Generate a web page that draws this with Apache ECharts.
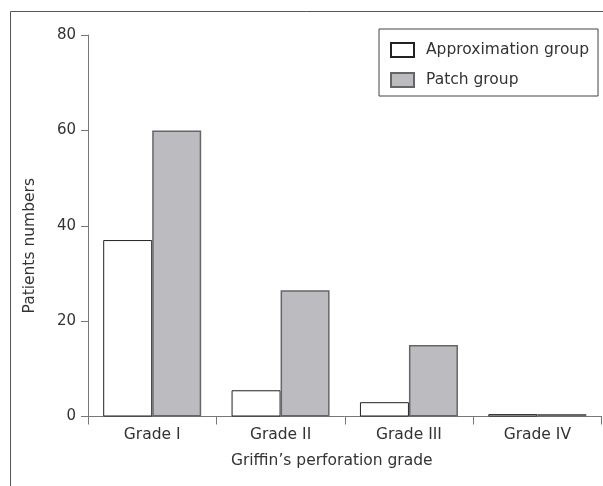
<!DOCTYPE html>
<html>
<head>
<meta charset="utf-8">
<script src="https://cdn.jsdelivr.net/npm/echarts@6/dist/echarts.min.js"></script>
<style>
html,body{margin:0;padding:0;background:#fff;}
#chart{width:603px;height:486px;}
</style>
</head>
<body>
<div id="chart"></div>
<script>
const categories = ['Grade I', 'Grade II', 'Grade III', 'Grade IV'];
const approximationGroup = [37, 5.5, 3, 0.5];
const patchGroup = [60, 26.5, 15, 0.5];
const yTicks = [0, 20, 40, 60, 80];
const seriesNames = ['Approximation group', 'Patch group'];
const xTitle = 'Griffin\u2019s perforation grade';
const yTitle = 'Patients numbers';

const FONT = 'DejaVu Sans';
const TXT = '#333';
const AX = '#777';

const chart = echarts.init(document.getElementById('chart'), null, {renderer: 'canvas'});
chart.setOption({
  animation: false,
  backgroundColor: '#fff',
  textStyle: {fontFamily: FONT},
  grid: {left: 88, right: 1.5, top: 35, bottom: 69.5, containLabel: false},
  legend: {
    orient: 'vertical',
    left: 379, top: 29,
    padding: [13, 9, 8, 11],
    itemWidth: 23, itemHeight: 14, itemGap: 14,
    borderColor: '#444', borderWidth: 1,
    icon: 'rect',
    textStyle: {fontFamily: FONT, fontSize: 15.5, color: TXT, padding: [0, 0, 0, 7]},
    data: seriesNames
  },
  xAxis: {
    type: 'category',
    data: categories,
    boundaryGap: true,
    name: xTitle,
    nameLocation: 'middle',
    nameGap: 36,
    nameTextStyle: {fontFamily: FONT, fontSize: 15.5, color: TXT, padding: [0, 26, 0, 0]},
    axisLine: {show: true, lineStyle: {color: AX, width: 1}},
    axisTick: {show: true, inside: false, alignWithLabel: false, length: 8, lineStyle: {color: AX}},
    axisLabel: {fontFamily: FONT, fontSize: 15.5, color: TXT, margin: 10},
    splitLine: {show: false}
  },
  yAxis: {
    type: 'value',
    min: 0, max: 80, interval: 20,
    name: yTitle,
    nameLocation: 'middle',
    nameGap: 50,
    nameTextStyle: {fontFamily: FONT, fontSize: 15.5, color: TXT, padding: [0, 40, 0, 0]},
    axisLine: {show: true, lineStyle: {color: AX, width: 1}},
    axisTick: {show: true, inside: false, length: 7, lineStyle: {color: AX}},
    axisLabel: {fontFamily: FONT, fontSize: 15, color: TXT, margin: 12,
      formatter: v => yTicks.includes(v) ? String(v) : ''},
    splitLine: {show: false}
  },
  series: [
    {
      name: seriesNames[0], type: 'bar', data: approximationGroup,
      barWidth: 49, barGap: '0%',
      itemStyle: {color: '#ffffff', borderColor: '#222', borderWidth: 1}
    },
    {
      name: seriesNames[1], type: 'bar', data: patchGroup,
      barWidth: 49, barGap: '0%',
      itemStyle: {color: '#bcbcc0', borderColor: '#666', borderWidth: 1.5}
    }
  ],
  graphic: [
    {type: 'line', shape: {x1: 10.5, y1: 11.5, x2: 603, y2: 11.5}, style: {stroke: '#555', lineWidth: 1}},
    {type: 'line', shape: {x1: 10.5, y1: 11.5, x2: 10.5, y2: 486}, style: {stroke: '#555', lineWidth: 1}}
  ]
});
</script>
</body>
</html>
